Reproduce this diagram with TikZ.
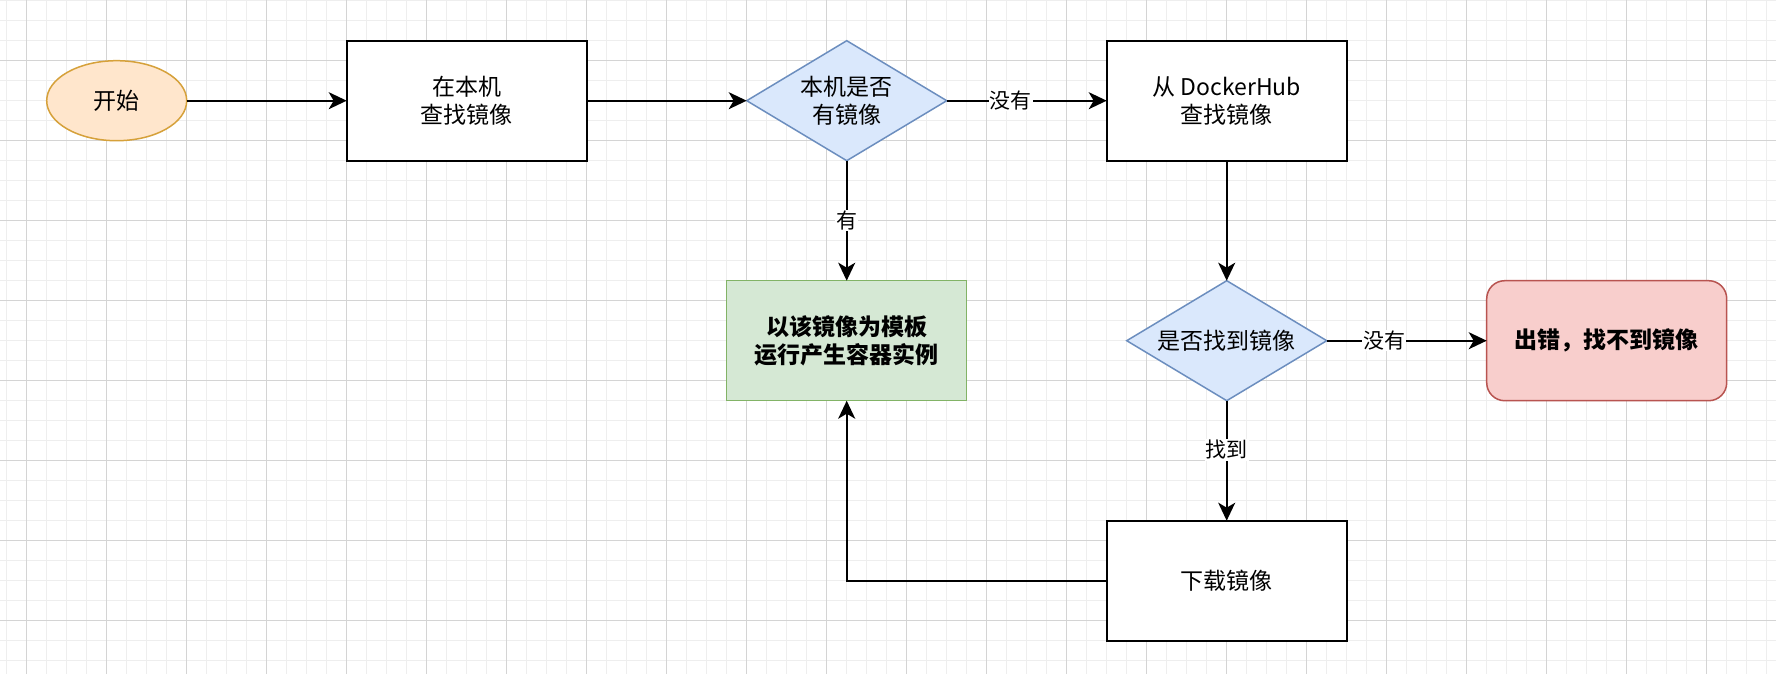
\documentclass[tikz,border=0pt]{standalone}
\usepackage{fontspec}
\setmainfont{Noto Sans CJK SC}
\usepackage{xcolor}
\usepackage{tikz}
\usetikzlibrary{shapes.geometric,arrows.meta}

\definecolor{gridminor}{HTML}{EEEEEE}
\definecolor{gridmajor}{HTML}{D4D4D4}
\definecolor{startfill}{HTML}{FFE6CC}
\definecolor{startline}{HTML}{D6A13A}
\definecolor{askfill}{HTML}{DAE8FC}
\definecolor{askline}{HTML}{6C8EBF}
\definecolor{runfill}{HTML}{D5E8D4}
\definecolor{runline}{HTML}{82B366}
\definecolor{errfill}{HTML}{F8CECC}
\definecolor{errline}{HTML}{B85450}

\begin{document}
\begin{tikzpicture}[x=1pt,y=-1pt,
    minorline/.style={draw=gridminor,line width=1pt},
    majorline/.style={draw=gridmajor,line width=1pt},
    txt/.style={font=\fontsize{23}{28}\selectfont,align=center,inner sep=0pt,outer sep=0pt},
    plainbox/.style={txt,draw=black,line width=2pt,fill=white,minimum width=240pt,minimum height=120pt},
    startnode/.style={txt,ellipse,draw=startline,line width=1.5pt,fill=startfill,minimum width=140pt,minimum height=80pt},
    asknode/.style={txt,diamond,shape aspect=1.667,draw=askline,line width=1.5pt,fill=askfill,minimum width=200pt,minimum height=120pt},
    runnode/.style={txt,font=\fontsize{23}{28}\selectfont\bfseries,draw=runline,line width=1.5pt,fill=runfill,minimum width=240pt,minimum height=120pt},
    errnode/.style={txt,font=\fontsize{23}{28}\selectfont\bfseries,rounded corners=18pt,draw=errline,line width=1.5pt,fill=errfill,minimum width=240pt,minimum height=120pt},
    arr/.style={-{Stealth[length=18pt,width=17pt,inset=5pt]},line width=2pt},
    lbl/.style={fill=white,font=\fontsize{21}{24}\selectfont,inner sep=1pt}]
    \fill[white] (0,0) rectangle (1776,674);
    \useasboundingbox (0,0) rectangle (1776,674);
    \foreach \x in {0,...,88} \draw[minorline] ({6.7+20*\x},0) -- ({6.7+20*\x},674);
    \foreach \y in {0,...,33} \draw[minorline] (0,{0.7+20*\y}) -- (1776,{0.7+20*\y});
    \foreach \x in {0,...,22} \draw[majorline] ({26.7+80*\x},0) -- ({26.7+80*\x},674);
    \foreach \y in {0,...,7} \draw[majorline] (0,{60.7+80*\y}) -- (1776,{60.7+80*\y});

    \node[startnode] (start) at (116.7,100.7) {开始};
    \node[plainbox] (look) at (466.7,100.7) {在本机\\查找镜像};
    \node[asknode] (local) at (846.7,100.7) {本机是否\\有镜像};
    \node[plainbox] (hub) at (1226.7,100.7) {从 DockerHub\\查找镜像};
    \node[runnode] (run) at (846.7,340.7) {以该镜像为模板\\运行产生容器实例};
    \node[asknode] (found) at (1226.7,340.7) {是否找到镜像};
    \node[errnode] (fail) at (1606.7,340.7) {出错，找不到镜像};
    \node[plainbox] (pull) at (1226.7,580.7) {下载镜像};

    \draw[arr] (start) -- (look);
    \draw[arr] (look) -- (local);
    \draw[arr] (local) -- node[lbl,pos=0.4] {没有} (hub);
    \draw[arr] (local) -- node[lbl] {有} (run);
    \draw[arr] (hub) -- (found);
    \draw[arr] (found) -- node[lbl,pos=0.36] {没有} (fail);
    \draw[arr] (found) -- node[lbl,pos=0.41] {找到} (pull);
    \draw[arr] (pull) -| (run);
\end{tikzpicture}
\end{document}
